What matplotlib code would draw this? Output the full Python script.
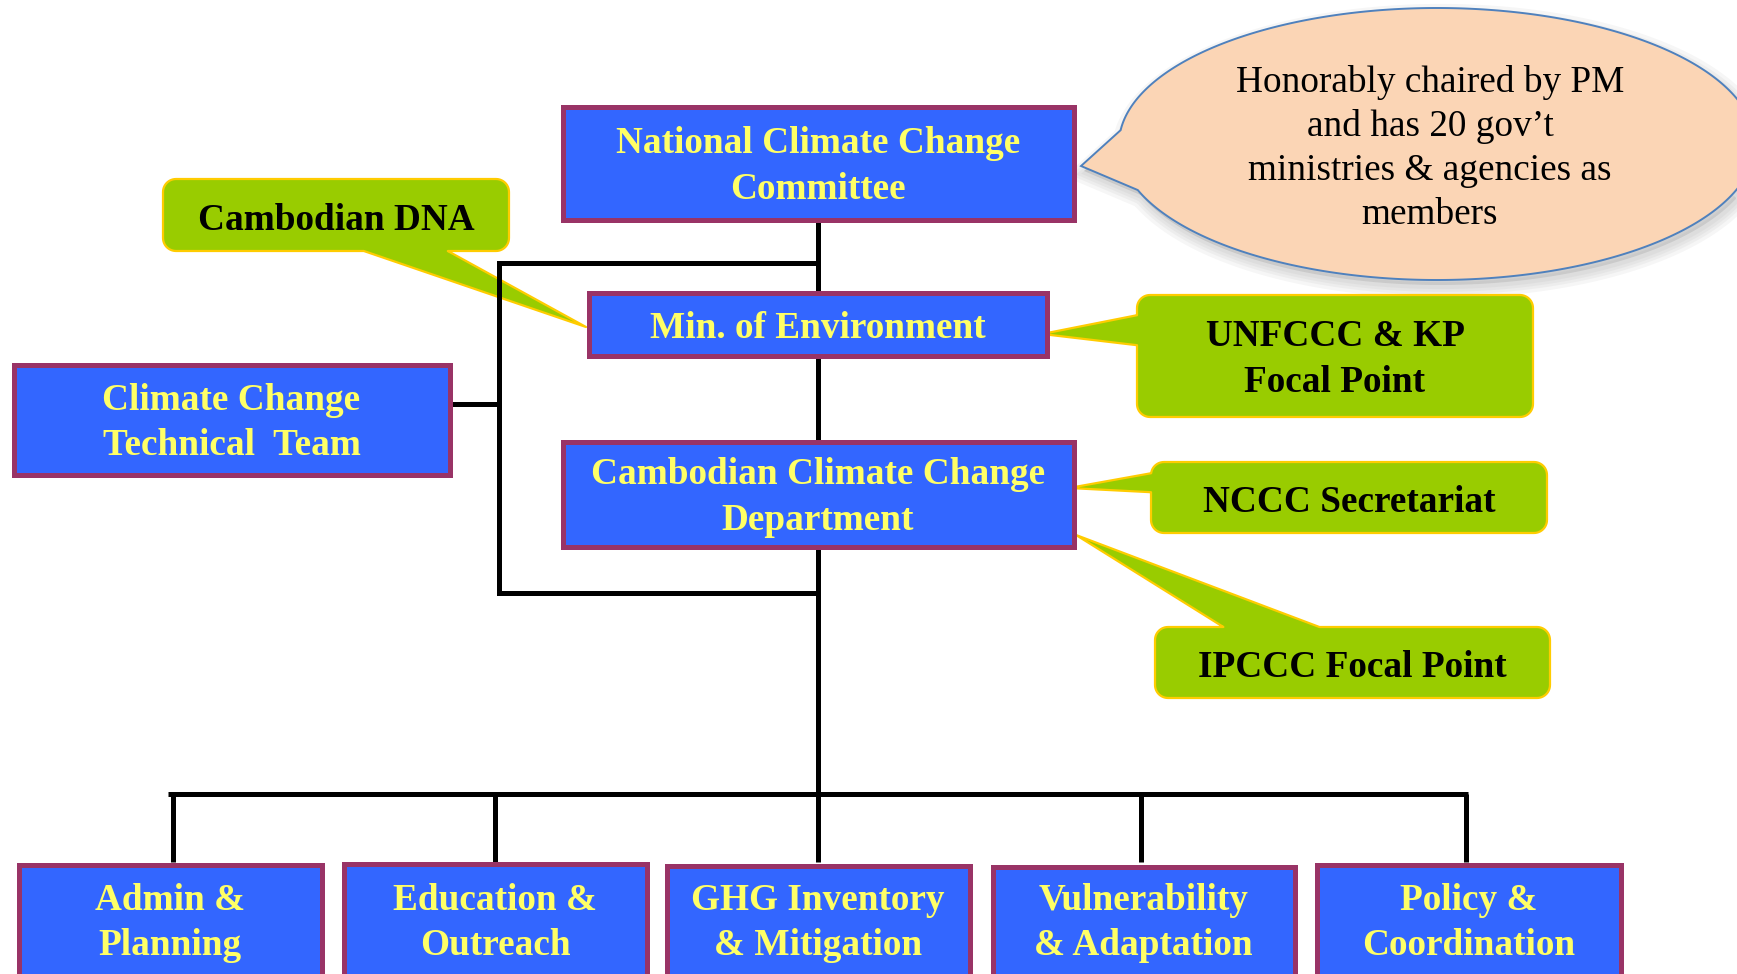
import numpy as np
import matplotlib.pyplot as plt
from matplotlib.patches import Rectangle, Polygon

# text content
main_units = ["National Climate Change\nCommittee", "Min. of Environment",
              "Cambodian Climate Change\nDepartment", "Climate Change\nTechnical  Team"]
offices = ["Admin &\nPlanning", "Education &\nOutreach", "GHG Inventory\n& Mitigation",
           "Vulnerability\n& Adaptation", "Policy &\nCoordination"]
roles = ["Cambodian DNA", "UNFCCC & KP\nFocal Point", "NCCC Secretariat", "IPCCC Focal Point"]
note = "Honorably chaired by PM\nand has 20 gov\u2019t\nministries & agencies as\nmembers"

# layout in pixels (x0, y0, x1, y1), y goes down
main_boxes = [(560, 104, 1076, 222), (586, 290, 1049, 358),
              (560, 439, 1076, 549), (11, 362, 452, 477)]
office_boxes = [(16, 862, 324, 1000), (341, 861, 649, 1000), (664, 863, 972, 1000),
                (990, 864, 1297, 1000), (1314, 862, 1623, 1000)]
office_drop_x = [173, 495, 818, 1141, 1466]
role_boxes = [(163, 179, 509, 251), (1137, 295, 1533, 417),
              (1151, 462, 1547, 533), (1155, 627, 1550, 698)]
role_tips = [(586, 327), (1042, 334), (1069, 488), (1076, 535)]
role_bases = [((364, 251), (448, 251)), ((1137, 315), (1137, 345)),
              ((1151, 473), (1151, 492)), ((1223, 627), (1319, 627))]

BLUE = '#3366FF'
PURPLE = '#993366'
YELLOW = '#FFFF66'
GREEN = '#99CC00'
GOLD = '#FFCC00'
PEACH = '#FBD5B5'
STEEL = '#4F81BD'
FONT = ['Liberation Serif', 'DejaVu Serif']
FS = 26.8
LS_BOLD = 1.39


def densify(pts, step=1.0):
    closed = np.vstack([pts, pts[:1]])
    d = np.r_[0, np.cumsum(np.hypot(*np.diff(closed, axis=0).T))]
    s = np.arange(0, d[-1], step)
    return np.c_[np.interp(s, d, closed[:, 0]), np.interp(s, d, closed[:, 1])]


def rounded_outline(x0, y0, x1, y1, r):
    corners = [(x1 - r, y0 + r, -90, 0), (x1 - r, y1 - r, 0, 90),
               (x0 + r, y1 - r, 90, 180), (x0 + r, y0 + r, 180, 270)]
    pts = []
    for cx, cy, a0, a1 in corners:
        t = np.radians(np.linspace(a0, a1, 12))
        pts += list(zip(cx + r * np.cos(t), cy + r * np.sin(t)))
    return densify(np.array(pts))


def add_wedge(outline, b1, b2, tip):
    i1 = np.argmin(np.hypot(*(outline - np.array(b1)).T))
    i2 = np.argmin(np.hypot(*(outline - np.array(b2)).T))
    if i1 > i2:
        i1, i2 = i2, i1
    if i2 - i1 <= len(outline) / 2:
        return np.vstack([outline[:i1 + 1], [tip], outline[i2:]])
    return np.vstack([outline[i1:i2 + 1], [tip]])


def label_y(y0, y1, label):
    # single lines sit a little lower in the reference
    return (y0 + y1) / 2 + (5 if '\n' not in label else 3.5)


fig = plt.figure(figsize=(17.37, 9.74), dpi=100)
ax = fig.add_axes([0, 0, 1, 1])
ax.set_xlim(0, 1737)
ax.set_ylim(974, 0)
ax.axis('off')

# connector lines
lw_line = 3.6
line_kw = dict(color='black', lw=lw_line, solid_joinstyle='miter', solid_capstyle='butt', zorder=2)
ax.plot([817.5, 499, 499, 817.5], [263, 263, 593, 593], **line_kw)
ax.plot([452, 499], [404, 404], **line_kw)
ax.plot([817.5, 817.5], [220, 794], **line_kw)
ax.plot([office_drop_x[0] - 5, office_drop_x[-1] + 2], [794, 794], **line_kw)
for x in office_drop_x:
    ax.plot([x, x], [794, 862], **line_kw)


# blue boxes
def blue_box(b):
    x0, y0, x1, y1 = b
    ax.add_patch(Rectangle((x0 + 2.5, y0 + 2.5), x1 - x0 - 5, y1 - y0 - 5,
                           fc=BLUE, ec=PURPLE, lw=3.6, zorder=3))


for b, label in zip(main_boxes, main_units):
    blue_box(b)
    ax.text((b[0] + b[2]) / 2, label_y(b[1], b[3], label), label, ha='center', va='center',
            color=YELLOW, fontsize=FS, fontweight='bold', family=FONT, zorder=4,
            linespacing=LS_BOLD)

for b, label in zip(office_boxes, offices):
    blue_box(b)
    ax.text((b[0] + b[2]) / 2, 923, label, ha='center', va='center',
            color=YELLOW, fontsize=FS, fontweight='bold', family=FONT, zorder=4,
            linespacing=LS_BOLD)

# green callouts
for b, tip, (b1, b2), label in zip(role_boxes, role_tips, role_bases, roles):
    outline = add_wedge(rounded_outline(*b, 13), b1, b2, tip)
    ax.add_patch(Polygon(outline, closed=True, fc=GREEN, ec=GOLD, lw=1.6,
                         joinstyle='round', zorder=1))
    ax.text((b[0] + b[2]) / 2, label_y(b[1], b[3], label), label, ha='center', va='center',
            color='black', fontsize=FS, fontweight='bold', family=FONT, zorder=4,
            linespacing=LS_BOLD)

# oval callout with note
cx, cy, ea, eb = 1437, 144, 318, 136
t = np.linspace(0, 2 * np.pi, 2400, endpoint=False)
ell = np.c_[cx + ea * np.cos(t), cy + eb * np.sin(t)]
oval = add_wedge(ell, (1120, 130), (1138, 190), (1081, 166))
for w in [16, 11, 7, 3]:
    ax.add_patch(Polygon(oval + [4, 7], closed=True, fc='none', ec='#808080',
                         lw=w, alpha=0.07, zorder=0.5))
ax.add_patch(Polygon(oval + [3, 5], closed=True, fc='#9a9a9a', ec='none', alpha=0.35, zorder=0.6))
ax.add_patch(Polygon(oval, closed=True, fc=PEACH, ec=STEEL, lw=1.4, zorder=0.7))
ax.text(1430, 148, note, ha='center', va='center', color='black', fontsize=FS,
        family=FONT, linespacing=1.35, zorder=4)

fig.savefig('out.png', dpi=100)
